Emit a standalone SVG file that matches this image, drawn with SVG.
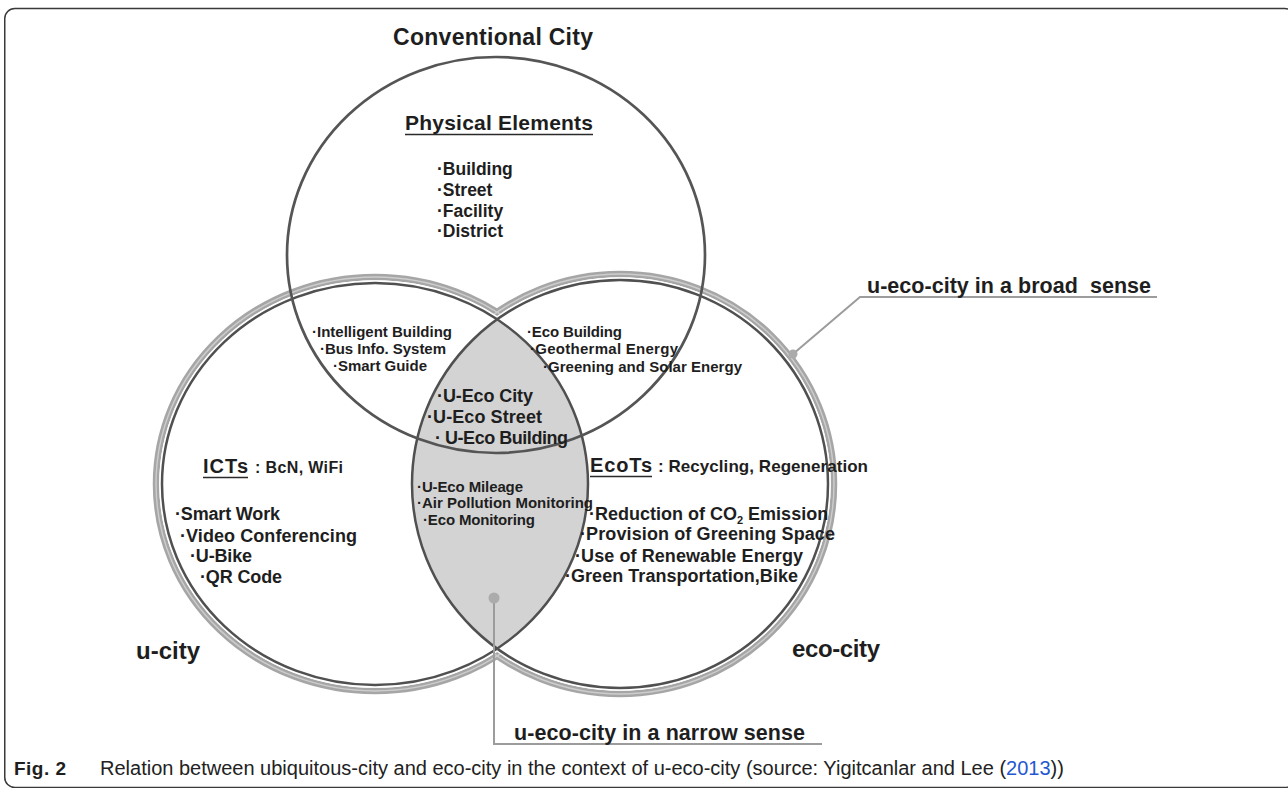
<svg xmlns="http://www.w3.org/2000/svg" width="1288" height="788" viewBox="0 0 1288 788">
<defs>
<style>
text { font-family: "Liberation Sans", Arial, sans-serif; font-weight: bold; fill: #1e1e1e; }
.band { fill: none; stroke: #a6a6a6; stroke-width: 6.5; }
.hl { fill: none; stroke: #cdcdcd; stroke-width: 1.4; }
.gap { fill: #ffffff; stroke: none; }
.ring { fill: none; stroke: #505050; stroke-width: 2.5; }
.top { fill: none; stroke: #555555; stroke-width: 2.7; }
.conn { fill: none; stroke: #9c9c9c; stroke-width: 2; }
.dot { fill: #ababab; }
.ul { stroke: #2a2a2a; stroke-width: 1.6; }
.s15 { font-size: 15px; }
.s17 { font-size: 17.5px; }
.s18 { font-size: 18px; }
.cap { font-weight: normal; font-size: 20px; fill: #222; }
</style>
<clipPath id="clipLeft"><ellipse cx="375" cy="484" rx="213" ry="201"/></clipPath>
</defs>
<rect width="1288" height="788" fill="#ffffff"/>
<rect x="4.75" y="8.5" width="1290" height="779" rx="10" fill="none" stroke="#3a3a3a" stroke-width="1.5"/>

<g id="circles">
  <ellipse class="band" cx="375" cy="484" rx="219" ry="207"/>
  <ellipse class="band" cx="620" cy="484" rx="214" ry="210"/>
  <ellipse class="hl" cx="375" cy="484" rx="219" ry="207"/>
  <ellipse class="hl" cx="620" cy="484" rx="214" ry="210"/>
  <ellipse class="gap" cx="375" cy="484" rx="215.8" ry="203.8"/>
  <ellipse class="gap" cx="620" cy="484" rx="210.8" ry="206.8"/>
  <ellipse id="lens" cx="620" cy="484" rx="208" ry="204" fill="#d3d3d3" clip-path="url(#clipLeft)"/>
  <ellipse class="ring" cx="375" cy="484" rx="213" ry="201"/>
  <ellipse class="ring" cx="620" cy="484" rx="208" ry="204"/>
  <ellipse class="top" cx="496" cy="255" rx="209" ry="198"/>
</g>

<g id="conventional-city">
  <text x="393" y="45" font-size="23" textLength="200">Conventional City</text>
  <text x="405" y="130" font-size="21" textLength="188">Physical Elements</text>
  <line class="ul" x1="405" y1="134.5" x2="593" y2="134.5"/>
  <text class="s17" x="437" y="175">·Building</text>
  <text class="s17" x="437" y="196">·Street</text>
  <text class="s17" x="437" y="217">·Facility</text>
  <text class="s17" x="437" y="237">·District</text>
</g>

<g id="conventional-u-city">
  <text class="s15" x="312" y="337" textLength="140">·Intelligent Building</text>
  <text class="s15" x="320" y="354" textLength="126">·Bus Info. System</text>
  <text class="s15" x="333" y="371" textLength="94">·Smart Guide</text>
</g>

<g id="conventional-eco-city">
  <text class="s15" x="527" y="337" textLength="95">·Eco Building</text>
  <text class="s15" x="530" y="354" textLength="148">·Geothermal Energy</text>
  <text class="s15" x="543" y="372" textLength="199">·Greening and Solar Energy</text>
</g>

<g id="u-eco-core">
  <text class="s18" x="437" y="402" textLength="96">·U-Eco City</text>
  <text class="s18" x="427" y="423" textLength="115">·U-Eco Street</text>
  <text class="s18" x="435" y="444" textLength="133">· U-Eco Building</text>
</g>

<g id="u-city">
  <text x="203" y="473" font-size="20" textLength="45">ICTs</text>
  <line class="ul" x1="203" y1="477.5" x2="248" y2="477.5"/>
  <text x="255" y="473" font-size="16" textLength="88">: BcN, WiFi</text>
  <text class="s18" x="175" y="520" textLength="105">·Smart Work</text>
  <text class="s18" x="180" y="542" textLength="177">·Video Conferencing</text>
  <text class="s18" x="190" y="562" textLength="62">·U-Bike</text>
  <text class="s18" x="200" y="583" textLength="82">·QR Code</text>
  <text x="136" y="659" font-size="24" textLength="64">u-city</text>
</g>

<g id="u-eco-lens">
  <text class="s15" x="417" y="492" textLength="106">·U-Eco Mileage</text>
  <text class="s15" x="417" y="508" textLength="176">·Air Pollution Monitoring</text>
  <text class="s15" x="423" y="525" textLength="112">·Eco Monitoring</text>
</g>

<g id="eco-city">
  <text x="590" y="472" font-size="20" textLength="62">EcoTs</text>
  <line class="ul" x1="590" y1="476.5" x2="652" y2="476.5"/>
  <text x="658" y="472" font-size="17" textLength="210">: Recycling, Regeneration</text>
  <text class="s18" x="589" y="520">·Reduction of CO<tspan font-size="11" dy="4">2</tspan><tspan dy="-4"> Emission</tspan></text>
  <text class="s18" x="580" y="540" textLength="255">·Provision of Greening Space</text>
  <text class="s18" x="575" y="562" textLength="228">·Use of Renewable Energy</text>
  <text class="s18" x="565" y="582" textLength="233">·Green Transportation,Bike</text>
  <text x="792" y="657" font-size="24" textLength="88">eco-city</text>
</g>

<g id="connectors">
  <polyline class="conn" points="793,354 860,297 1157,297"/>
  <circle class="dot" cx="793" cy="354" r="4.5"/>
  <polyline class="conn" points="494,598 494,744 822,744"/>
  <circle class="dot" cx="494" cy="598" r="5.5"/>
</g>

<g id="labels">
  <text x="867" y="293" font-size="21.5" textLength="284" xml:space="preserve">u-eco-city in a broad  sense</text>
  <text x="514" y="740" font-size="21.5" textLength="291">u-eco-city in a narrow sense</text>
</g>

<g id="caption">
  <text x="14" y="775" font-size="19" textLength="52">Fig. 2</text>
  <text class="cap" x="100" y="775">Relation between ubiquitous-city and eco-city in the context of u-eco-city (source: Yigitcanlar and Lee (<tspan fill="#2458d0">2013</tspan>))</text>
</g>
</svg>
